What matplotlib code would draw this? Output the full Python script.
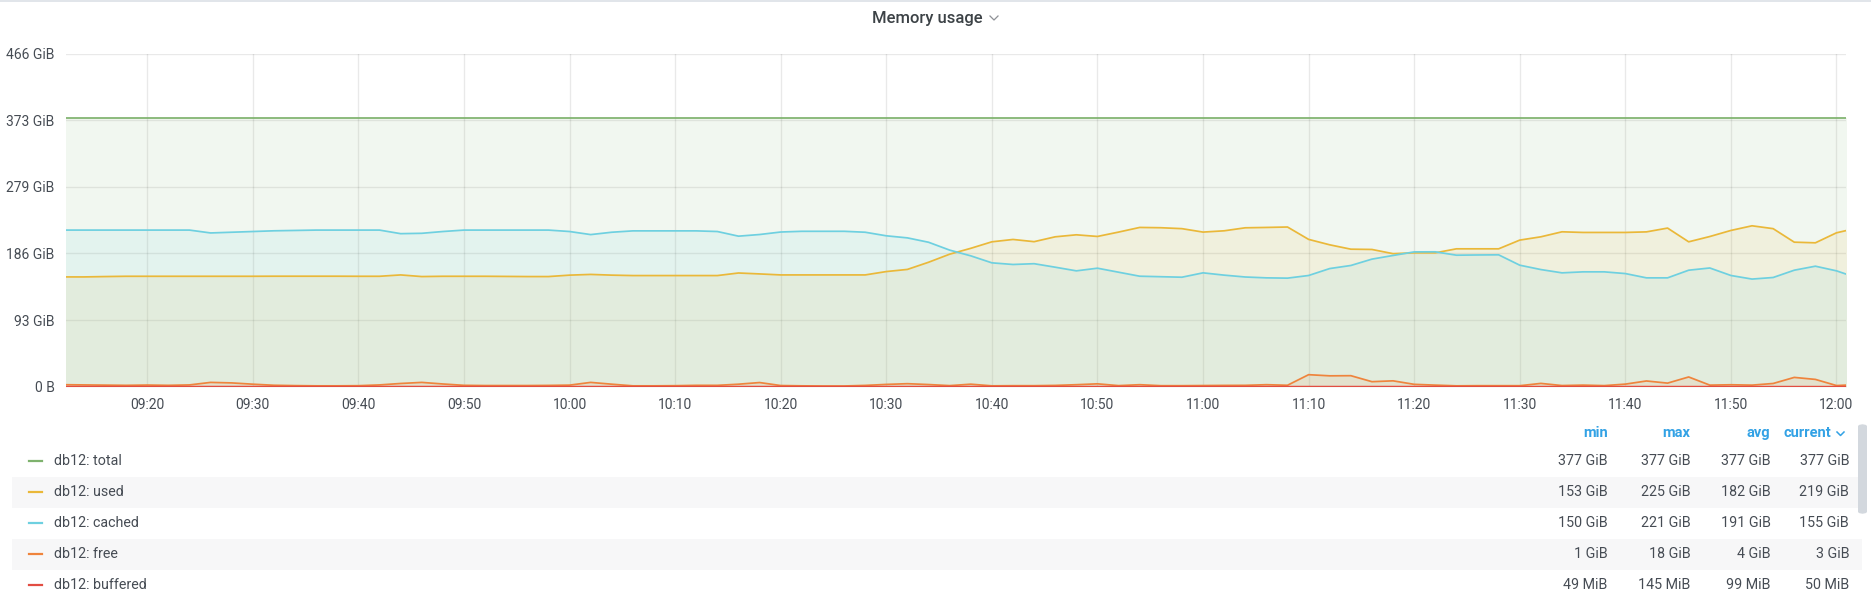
import matplotlib
matplotlib.use("Agg")
import matplotlib.pyplot as plt
import matplotlib.dates as mdates
from matplotlib.lines import Line2D
from matplotlib.patches import Rectangle, FancyBboxPatch
import numpy as np
import pandas as pd

plt.rcParams['font.family'] = ['Roboto', 'DejaVu Sans']

# ---------------- data ----------------
title = "Memory usage"
series_names = ["db12: total", "db12: used", "db12: cached", "db12: free", "db12: buffered"]
series_colors = ["#7EB26D", "#EAB839", "#6ED0E0", "#EF843C", "#E24D42"]

start_time = "2023-01-01 09:12"
n_points = 86
step = "2min"

total_gib = [376.4] * n_points

used_gib = [
    153.5, 153.5, 154.0, 154.4, 154.4, 154.4, 154.4, 154.4, 154.4, 154.4,
    154.5, 154.5, 154.5, 154.5, 154.4, 154.4, 156.3, 154.0, 154.4, 154.4,
    154.4, 154.2, 154.0, 154.0, 156.0, 157.0, 156.0, 155.4, 155.4, 155.4,
    155.4, 155.4, 159.0, 157.7, 156.3, 156.3, 156.3, 156.3, 156.3, 161.0,
    164.0, 174.0, 185.3, 193.5, 202.6, 205.9, 202.8, 209.6, 212.4, 210.1,
    216.2, 222.7, 222.3, 221.0, 216.2, 218.0, 222.2, 222.7, 223.3, 206.0,
    198.4, 192.3, 191.9, 186.0, 187.2, 187.2, 192.8, 192.8, 192.8, 205.0,
    209.6, 216.6, 215.7, 215.7, 215.7, 216.5, 221.8, 202.6, 210.0, 218.5,
    225.0, 221.0, 202.1, 201.2, 215.2, 222.0,
]

cached_gib = [
    219.0, 219.0, 219.0, 219.0, 219.0, 219.0, 219.0, 215.0, 216.0, 217.0,
    218.0, 218.5, 219.0, 219.0, 219.0, 219.0, 214.0, 214.5, 217.0, 219.0,
    219.0, 219.0, 219.0, 219.0, 217.0, 212.7, 216.0, 217.9, 217.9, 217.9,
    217.9, 217.0, 210.5, 212.8, 216.3, 217.3, 217.3, 217.3, 216.0, 211.0,
    208.1, 202.0, 191.0, 183.0, 173.2, 170.9, 172.0, 167.1, 162.0, 165.7,
    160.1, 154.5, 153.8, 153.1, 159.2, 156.0, 153.4, 152.2, 151.8, 155.5,
    165.2, 169.5, 178.4, 183.5, 188.5, 188.6, 183.9, 184.2, 184.4, 169.9,
    163.8, 159.2, 160.6, 160.6, 158.2, 152.2, 152.2, 162.9, 166.0, 155.5,
    150.5, 152.7, 162.9, 168.5, 162.0, 152.0,
]

free_gib = [
    2.8, 2.5, 2.2, 1.9, 2.3, 1.9, 2.5, 6.0, 5.3, 3.5,
    2.0, 1.5, 1.2, 1.2, 1.4, 2.5, 4.5, 6.0, 3.8, 1.9,
    1.6, 1.6, 1.6, 1.8, 2.2, 6.0, 3.5, 1.2, 1.2, 1.4,
    1.9, 1.9, 3.5, 5.8, 1.6, 1.2, 1.0, 1.0, 1.8, 3.2,
    4.2, 3.0, 1.5, 3.5, 1.2, 1.4, 1.4, 1.8, 2.8, 4.0,
    1.5, 2.8, 1.4, 1.4, 1.6, 1.8, 1.9, 2.8, 2.0, 16.8,
    15.2, 15.4, 7.0, 8.2, 3.3, 2.2, 1.2, 1.4, 1.4, 1.4,
    4.6, 1.6, 2.2, 1.5, 3.6, 8.0, 5.0, 13.6, 2.2, 2.7,
    2.2, 4.5, 13.0, 10.2, 1.6, 3.0,
]

buffered_mib = [
    140, 142, 145, 138, 130, 128, 125, 120, 118, 115,
    112, 110, 108, 110, 112, 115, 118, 120, 116, 112,
    108, 105, 104, 102, 100, 100, 98, 97, 100, 103,
    106, 108, 110, 108, 105, 102, 100, 99, 98, 96,
    95, 96, 98, 100, 102, 104, 103, 101, 99, 97,
    95, 94, 96, 98, 100, 101, 99, 97, 95, 93,
    92, 94, 96, 98, 97, 95, 93, 90, 88, 86,
    84, 82, 80, 78, 76, 74, 72, 70, 67, 64,
    61, 58, 55, 53, 49, 50,
]

y_tick_bytes = [0, 100e9, 200e9, 300e9, 400e9, 500e9]
y_tick_labels = ["0 B", "93 GiB", "186 GiB", "279 GiB", "373 GiB", "466 GiB"]

legend_min = ["377 GiB", "153 GiB", "150 GiB", "1 GiB", "49 MiB"]
legend_max = ["377 GiB", "225 GiB", "221 GiB", "18 GiB", "145 MiB"]
legend_avg = ["377 GiB", "182 GiB", "191 GiB", "4 GiB", "99 MiB"]
legend_current = ["377 GiB", "219 GiB", "155 GiB", "3 GiB", "50 MiB"]
legend_headers = ["min", "max", "avg", "current"]

x_view = ("2023-01-01 09:12:16", "2023-01-01 12:00:54")

# ---------------- figure ----------------
W, H = 1871, 605
fig = plt.figure(figsize=(W / 100, H / 100), dpi=100)
fig.patch.set_facecolor("white")

def fx(x):
    return x / W

def fy(y):
    return 1 - y / H

TXT = "#464c54"
FS = 10

ax_left, ax_right, ax_top, ax_bottom = 65.6, 1846, 53.7, 386.7
ax = fig.add_axes([fx(ax_left), fy(ax_bottom), fx(ax_right - ax_left), (ax_bottom - ax_top) / H])
ax.set_facecolor("white")

times = pd.date_range(start_time, periods=n_points, freq=step)
series = [
    np.array(total_gib),
    np.array(used_gib),
    np.array(cached_gib),
    np.array(free_gib),
    np.array(buffered_mib) / 1024.0,
]

for vals, col in zip(series, series_colors):
    ax.fill_between(times, 0, vals, color=col, alpha=0.1, linewidth=0, zorder=2)
    ax.plot(times, vals, color=col, linewidth=1.25, zorder=3, solid_joinstyle="round")

gib = 2.0 ** 30
ax.set_ylim(0, y_tick_bytes[-1] / gib)
ax.set_yticks([b / gib for b in y_tick_bytes])
ax.set_yticklabels(y_tick_labels)
ax.set_xlim(pd.Timestamp(x_view[0]), pd.Timestamp(x_view[1]))
ax.xaxis.set_major_locator(mdates.MinuteLocator(byminute=range(0, 60, 10)))
ax.xaxis.set_major_formatter(mdates.DateFormatter("%H:%M"))

for s in ax.spines.values():
    s.set_visible(False)
ax.grid(True, color="#000000", alpha=0.085, linewidth=1.0, zorder=1)
ax.set_axisbelow(True)
ax.tick_params(axis="both", length=0, labelsize=FS, labelcolor=TXT)
ax.tick_params(axis="y", pad=8)
ax.tick_params(axis="x", pad=8)

# top border of panel
fig.patches.append(Rectangle((0, fy(2)), 1, 2 / H, transform=fig.transFigure,
                             facecolor="#e1e5ea", edgecolor="none"))

# title
fig.text(fx(927.5), fy(18), title, ha="center", va="center", fontsize=12,
         fontweight="medium", color="#3c4246")
fig.add_artist(Line2D([fx(990), fx(994), fx(998)], [fy(16), fy(20), fy(16)],
                      transform=fig.transFigure, color="#8e9196", linewidth=0.9))

# legend table
row_y = [461, 492, 523, 554, 585]
row_h = 31
for i, yc in enumerate(row_y):
    if i % 2 == 1:
        fig.patches.append(Rectangle((fx(12), fy(yc + row_h / 2)), fx(1862 - 12), row_h / H,
                                     transform=fig.transFigure, facecolor="#f7f7f8",
                                     edgecolor="none", zorder=0))

col_right = [1607.5, 1690.5, 1770.5, 1849]
header_y = 433
for j, h in enumerate(legend_headers):
    xr = col_right[j] if j < 3 else 1831
    fig.text(fx(xr), fy(header_y), h, ha="right", va="center", fontsize=FS + 0.5,
             fontweight="bold", color="#33a2e5")
fig.add_artist(Line2D([fx(1837), fx(1840.5), fx(1844)], [fy(432), fy(435.5), fy(432)],
                      transform=fig.transFigure, color="#33a2e5", linewidth=1.1))

cols = [legend_min, legend_max, legend_avg, legend_current]
for i, (name, col, yc) in enumerate(zip(series_names, series_colors, row_y)):
    fig.add_artist(Line2D([fx(29), fx(41.5)], [fy(yc), fy(yc)], transform=fig.transFigure,
                          color=col, linewidth=1.6))
    fig.text(fx(53.6), fy(yc), name, ha="left", va="center", fontsize=FS + 0.3, color=TXT)
    for j, vals in enumerate(cols):
        fig.text(fx(col_right[j]), fy(yc), vals[i], ha="right", va="center",
                 fontsize=FS + 0.3, color=TXT)

# scrollbar
fig.patches.append(FancyBboxPatch((fx(1858), fy(514)), fx(9), 90 / H,
                                  boxstyle="round,pad=0,rounding_size=0.004",
                                  transform=fig.transFigure, facecolor="#d3d8de",
                                  edgecolor="none"))

fig.savefig("out.png", dpi=100, facecolor="white")
